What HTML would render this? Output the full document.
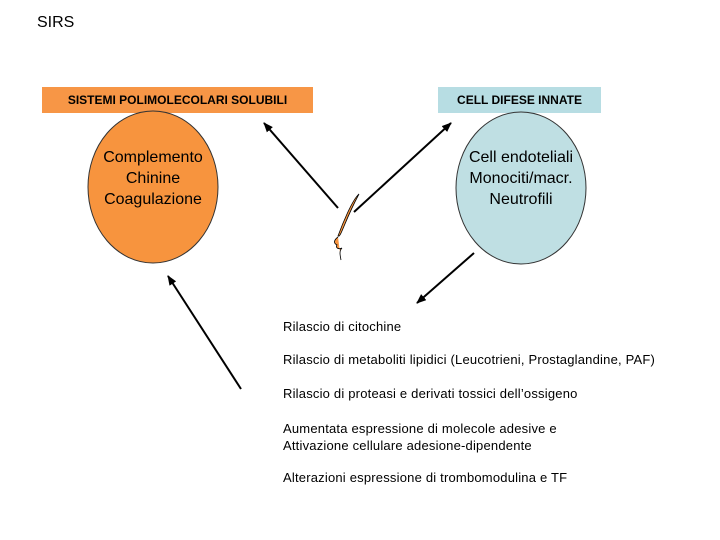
<!DOCTYPE html>
<html><head><meta charset="utf-8"><style>
body{margin:0;width:720px;height:540px;background:#fff;position:relative;overflow:hidden;font-family:"Liberation Sans",sans-serif}
.t{position:absolute;white-space:nowrap}
.l{position:absolute;left:283px;font-size:13px;color:#000;white-space:nowrap;letter-spacing:0.2px}
</style></head><body>
<div class="t" style="left:37px;top:14px;font-size:16px">SIRS</div>
<div class="t" style="left:42px;top:87px;width:271px;height:26px;background:#f79646;font-size:12px;font-weight:bold;line-height:26px;text-align:center">SISTEMI POLIMOLECOLARI SOLUBILI</div>
<div class="t" style="left:438px;top:87px;width:163px;height:26px;background:#b7dde3;font-size:12px;font-weight:bold;line-height:26px;text-align:center">CELL DIFESE INNATE</div>
<svg width="720" height="540" style="position:absolute;left:0;top:0">
<defs><marker id="a" markerWidth="10" markerHeight="8" refX="9" refY="4" orient="auto" markerUnits="userSpaceOnUse"><path d="M0,0 L10,4 L0,8 z" fill="#000"/></marker></defs>
<ellipse cx="153" cy="187" rx="65" ry="76" fill="#f7943e" stroke="#333" stroke-width="1"/>
<ellipse cx="521" cy="188" rx="65" ry="76" fill="#bfdfe3" stroke="#333" stroke-width="1"/>
<line x1="338" y1="208" x2="264" y2="123" stroke="#000" stroke-width="2" marker-end="url(#a)"/>
<line x1="354" y1="212" x2="451" y2="123" stroke="#000" stroke-width="2" marker-end="url(#a)"/>
<line x1="474" y1="253" x2="417" y2="303" stroke="#000" stroke-width="2" marker-end="url(#a)"/>
<line x1="241" y1="389" x2="168" y2="276" stroke="#000" stroke-width="2" marker-end="url(#a)"/>
<path d="M359,194 C352,200 342,225 338,236 C341,238 344,222 359,194 Z M338,237 C334,240 333,243 337,245 C335,247 338,250 342,248 C339,251 340,255 341,260" fill="#f7943e" stroke="#000" stroke-width="0.8"/>
</svg>
<div class="t" style="left:88px;top:147px;width:130px;text-align:center;font-size:16px;line-height:21px">Complemento<br>Chinine<br>Coagulazione</div>
<div class="t" style="left:456px;top:147px;width:130px;text-align:center;font-size:16px;line-height:21px">Cell endoteliali<br>Monociti/macr.<br>Neutrofili</div>
<div class="l" style="top:319px">Rilascio di citochine</div>
<div class="l" style="top:352px">Rilascio di metaboliti lipidici (Leucotrieni, Prostaglandine, PAF)</div>
<div class="l" style="top:386px">Rilascio di proteasi e derivati tossici dell’ossigeno</div>
<div class="l" style="top:420px;line-height:17px">Aumentata espressione di molecole adesive e<br>Attivazione cellulare adesione-dipendente</div>
<div class="l" style="top:470px">Alterazioni espressione di trombomodulina e TF</div>
</body></html>
